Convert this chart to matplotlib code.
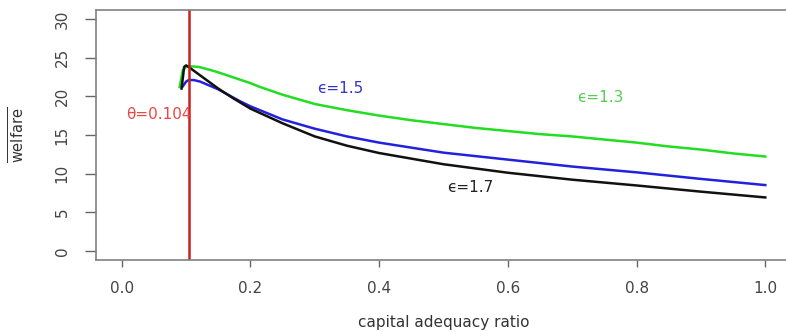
import numpy as np
import matplotlib
matplotlib.use("Agg")
import matplotlib.pyplot as plt

#%% data
theta = 0.104

x_13 = [0.09, 0.095, 0.1, 0.104, 0.12, 0.138, 0.15, 0.175, 0.2, 0.215, 0.25, 0.3, 0.35, 0.4,
        0.45, 0.5, 0.55, 0.6, 0.65, 0.7, 0.75, 0.8, 0.85, 0.9, 0.95, 1.0]
w_13 = [21.2, 23.4, 23.8, 23.9, 23.8, 23.4, 23.1, 22.4, 21.7, 21.2, 20.2, 19.0, 18.2, 17.5,
        16.9, 16.4, 15.9, 15.5, 15.1, 14.8, 14.4, 14.0, 13.5, 13.1, 12.6, 12.2]

x_15 = [0.095, 0.1, 0.104, 0.112, 0.122, 0.15, 0.174, 0.184, 0.2, 0.25, 0.3, 0.35, 0.4,
        0.5, 0.6, 0.7, 0.8, 0.9, 1.0]
w_15 = [21.3, 21.9, 22.1, 22.1, 21.9, 20.9, 19.8, 19.35, 18.7, 17.0, 15.8, 14.8, 14.0,
        12.7, 11.8, 10.9, 10.15, 9.3, 8.5]

x_17 = [0.093, 0.097, 0.1, 0.104, 0.122, 0.15, 0.174, 0.184, 0.2, 0.25, 0.3, 0.35, 0.4,
        0.5, 0.6, 0.7, 0.8, 0.9, 1.0]
w_17 = [21.0, 23.8, 24.0, 23.8, 22.7, 21.0, 19.7, 19.2, 18.4, 16.5, 14.8, 13.6, 12.65,
        11.2, 10.1, 9.2, 8.45, 7.65, 6.9]

xticks = [0.0, 0.2, 0.4, 0.6, 0.8, 1.0]
yticks = [0, 5, 10, 15, 20, 25, 30]
#%%

fig = plt.figure(figsize=(7.86, 3.32), dpi=100)
ax = fig.add_axes([0.1221, 0.2169, 0.8843, 0.7536])

ax.plot(x_13, w_13, color="#22dd22", lw=1.8)
ax.plot(x_15, w_15, color="#2222dd", lw=1.8)
ax.plot(x_17, w_17, color="#111111", lw=1.8)
ax.axvline(theta, color="#cc2020", lw=1.8)

ax.text(0.058, 17.7, "θ=0.104", color="#ee4444", fontsize=11, ha="center", va="center")
ax.text(0.34, 21.0, "ϵ=1.5", color="#3333cc", fontsize=11, ha="center", va="center")
ax.text(0.743, 19.9, "ϵ=1.3", color="#55cc55", fontsize=11, ha="center", va="center")
ax.text(0.541, 8.2, "ϵ=1.7", color="#222222", fontsize=11, ha="center", va="center")

ax.set_xlim(-0.04, 1.04)
ax.set_ylim(-1.2, 31.2)
ax.set_xticks(xticks)
ax.set_xticklabels(["{:.1f}".format(t) for t in xticks])
ax.set_yticks(yticks)
ax.set_yticklabels([str(t) for t in yticks], rotation=90, va="center")

for s in ax.spines.values():
    s.set_color("#808080")
    s.set_linewidth(1.2)
ax.tick_params(colors="#666666", labelcolor="#444444", labelsize=11, width=1.0)
ax.tick_params(axis="x", length=5, pad=10)
ax.tick_params(axis="y", length=8, pad=11)

ax.set_xlabel("capital adequacy ratio", fontsize=11, color="#333333", labelpad=14)
ax.set_ylabel(r"$\overline{\mathsf{welfare}}$", fontsize=10.5, color="#333333", labelpad=19)

plt.savefig("out.png", dpi=100)
